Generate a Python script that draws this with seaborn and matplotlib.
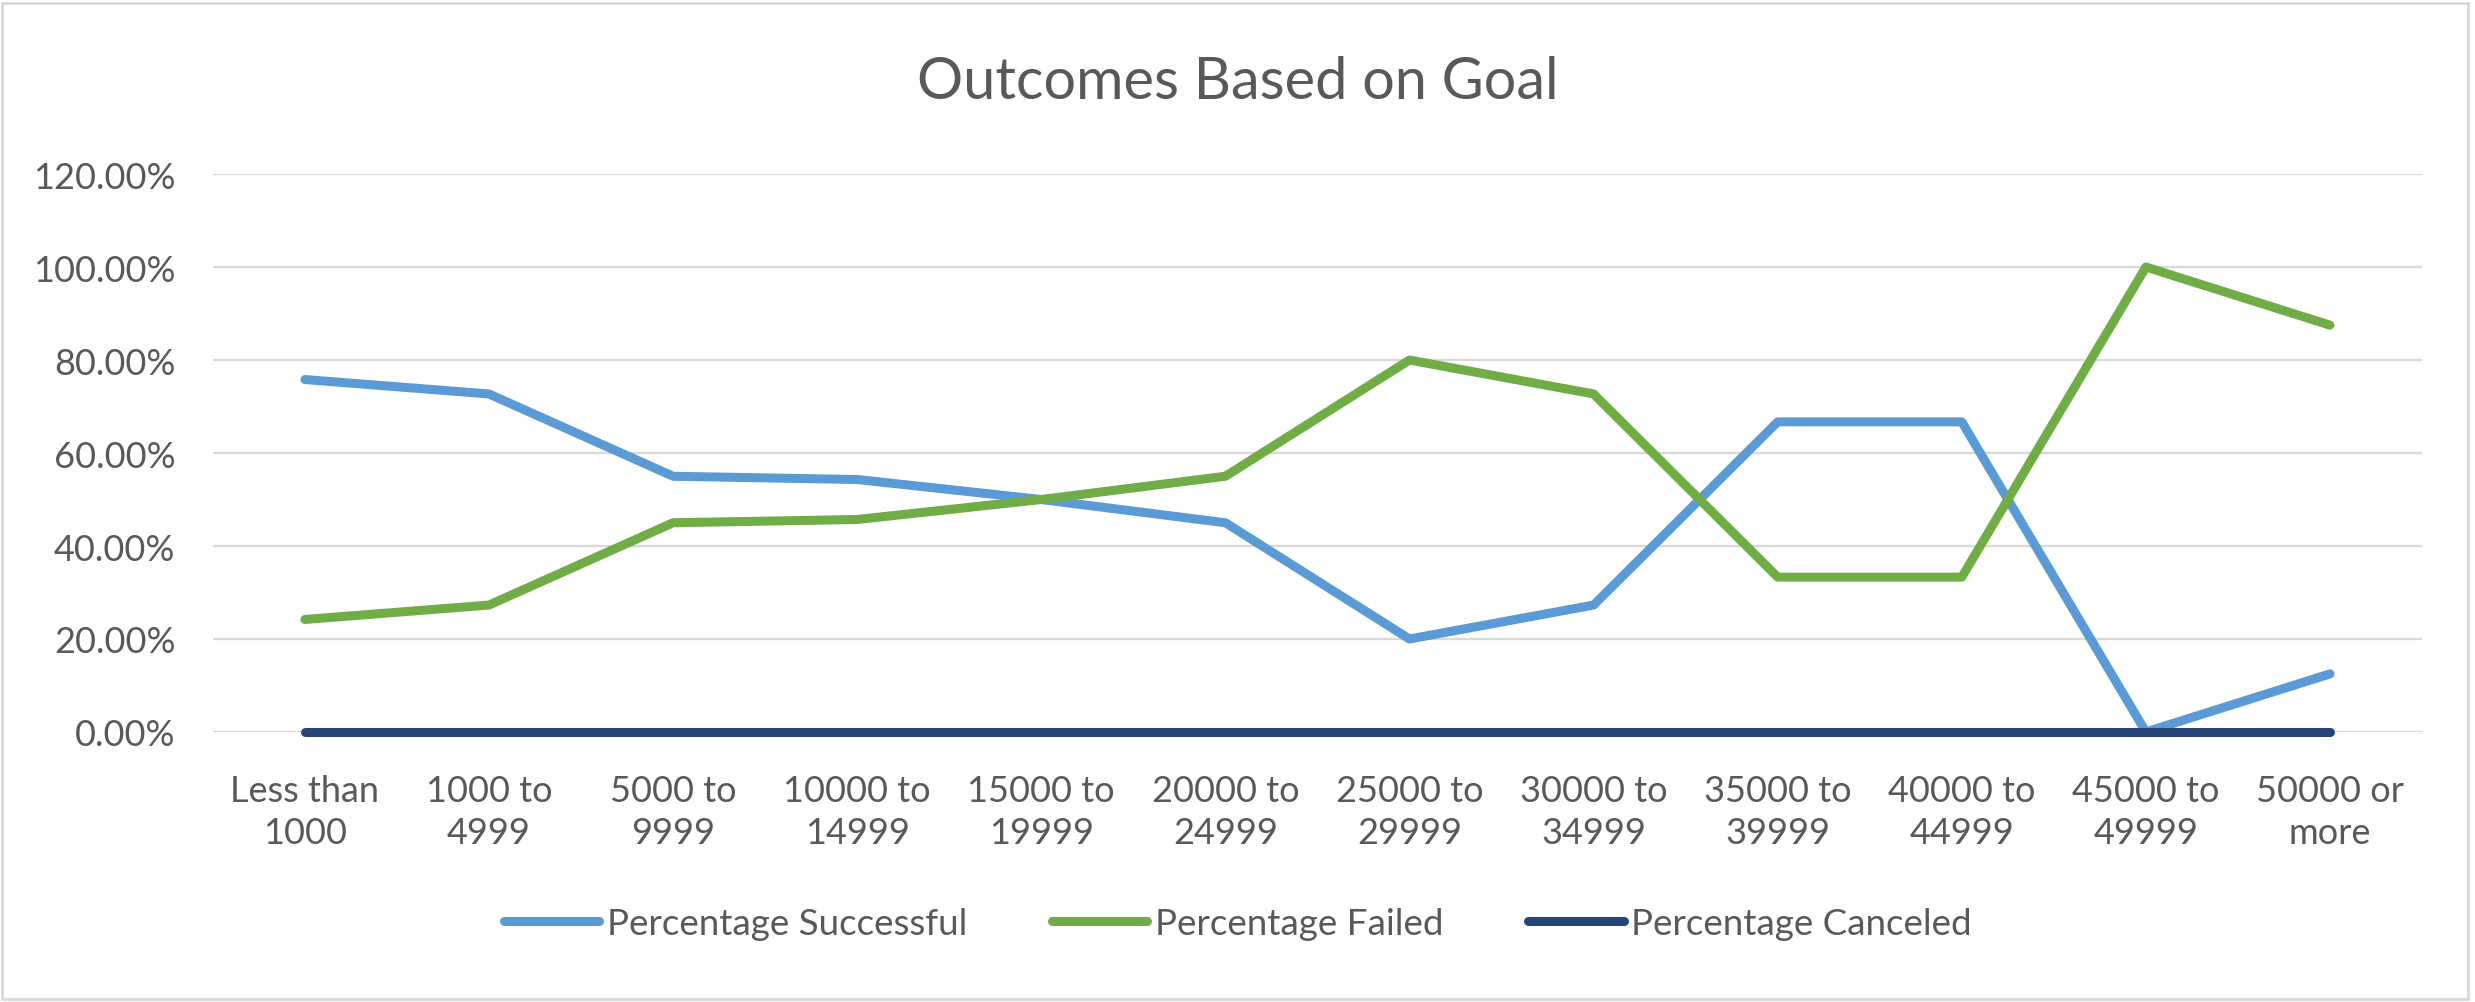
import matplotlib
matplotlib.use("Agg")
import matplotlib.pyplot as plt
import seaborn as sns
import pandas as pd
from matplotlib.patches import Rectangle
from matplotlib.ticker import FuncFormatter

categories = ["Less than\n1000", "1000 to\n4999", "5000 to\n9999", "10000 to\n14999",
              "15000 to\n19999", "20000 to\n24999", "25000 to\n29999", "30000 to\n34999",
              "35000 to\n39999", "40000 to\n44999", "45000 to\n49999", "50000 or\nmore"]
pct_successful = [0.758, 0.727, 0.550, 0.543, 0.500, 0.450, 0.200, 0.273, 0.667, 0.667, 0.000, 0.125]
pct_failed = [0.242, 0.273, 0.450, 0.457, 0.500, 0.550, 0.800, 0.727, 0.333, 0.333, 1.000, 0.875]
pct_canceled = [0.0] * 12
series_names = ["Percentage Successful", "Percentage Failed", "Percentage Canceled"]
colors = ["#5B9BD5", "#70AD47", "#264478"]

rows = []
for name, vals in zip(series_names, [pct_successful, pct_failed, pct_canceled]):
    for c, v in zip(categories, vals):
        rows.append({"Goal": c, "Value": v, "Series": name})
df = pd.DataFrame(rows)

sns.set_theme(style="white")
plt.rcParams["font.family"] = ["Lato", "DejaVu Sans"]
text_color = "#595959"

fig = plt.figure(figsize=(24.75, 10.03), dpi=100)
ax = fig.add_axes([0.086, 0.2692, 0.8926, 0.5563])

sns.lineplot(data=df, x="Goal", y="Value", hue="Series", hue_order=series_names,
             palette=colors, linewidth=6.5, sort=False, ax=ax,
             solid_capstyle="round", clip_on=False)

ax.set_xlim(-0.5, len(categories) - 0.5)
ax.set_ylim(0, 1.2)
ax.set_yticks([0, 0.2, 0.4, 0.6, 0.8, 1.0, 1.2])
ax.yaxis.set_major_formatter(FuncFormatter(lambda v, p: f"{v*100:.2f}%"))
ax.grid(axis="y", color="#d9d9d9", linewidth=1.6)
ax.set_axisbelow(True)
for s in ax.spines.values():
    s.set_visible(False)
ax.tick_params(axis="both", length=0, labelsize=26, colors=text_color)
ax.tick_params(axis="x", pad=30)
ax.tick_params(axis="y", pad=27)
for lbl in ax.get_xticklabels():
    lbl.set_linespacing(1.35)
ax.set_xlabel("")
ax.set_ylabel("")

fig.text(0.5, 0.918, "Outcomes Based on Goal", ha="center", va="center",
         fontsize=41.5, color=text_color)

handles, labels = ax.get_legend_handles_labels()
ax.legend_.remove()
leg = fig.legend(handles, labels, loc="center", bbox_to_anchor=(0.5, 0.078), ncol=3,
                 frameon=False, fontsize=26.5, handlelength=2.6, handletextpad=0.2,
                 columnspacing=2.3, labelcolor=text_color)

fig.patches.append(Rectangle((0.001, 0.003), 0.996, 0.993, transform=fig.transFigure,
                             fill=False, edgecolor="#d9d9d9", linewidth=2))

fig.savefig("out.png", dpi=100, facecolor="white")
